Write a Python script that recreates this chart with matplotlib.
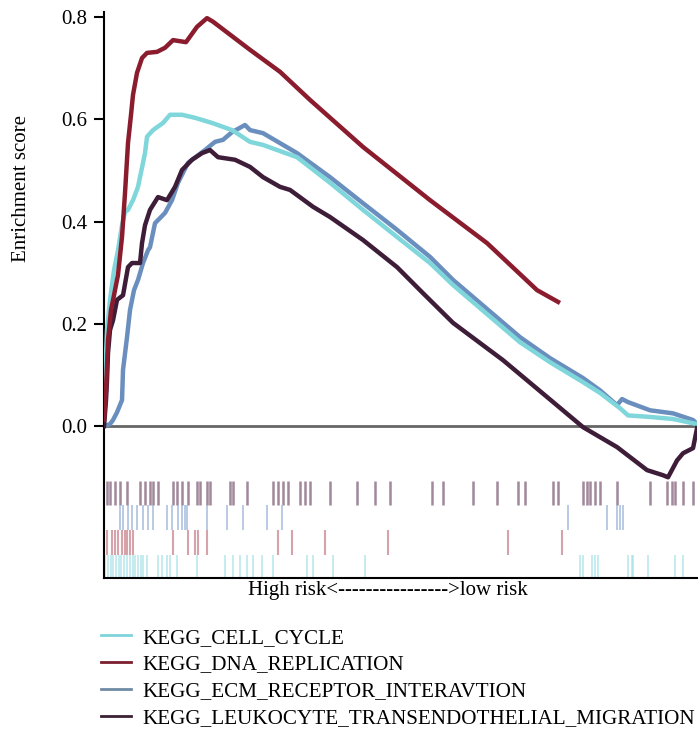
import matplotlib
matplotlib.use("Agg")
import matplotlib.pyplot as plt

plt.rcParams['font.family'] = ['Liberation Serif', 'DejaVu Serif']

# running enrichment score, x = gene rank (0..593)
n_genes = 593

cc_rank = [0, 1, 3, 6, 10, 14, 18, 21, 24, 29, 34, 41, 43, 49, 59, 66, 78, 91, 108, 128,
           146, 159, 193, 226, 259, 293, 326, 349, 416, 446, 479, 496, 516, 524, 546, 569, 593]
cc_es = [0.012, 0.090, 0.188, 0.247, 0.305, 0.344, 0.393, 0.419, 0.423, 0.442, 0.468, 0.534,
         0.566, 0.579, 0.593, 0.609, 0.609, 0.603, 0.593, 0.579, 0.556, 0.550, 0.526, 0.476,
         0.423, 0.370, 0.319, 0.276, 0.164, 0.125, 0.086, 0.065, 0.035, 0.021, 0.018, 0.014, 0.004]

dna_rank = [0, 2, 4, 7, 10, 14, 18, 21, 24, 27, 29, 33, 38, 43, 53, 61, 69, 82, 93, 103,
            109, 146, 176, 206, 259, 326, 383, 433, 454]
dna_es = [0.012, 0.070, 0.168, 0.227, 0.256, 0.296, 0.370, 0.456, 0.554, 0.609, 0.648, 0.691,
          0.720, 0.730, 0.732, 0.740, 0.755, 0.751, 0.781, 0.798, 0.791, 0.736, 0.693, 0.638,
          0.546, 0.442, 0.358, 0.266, 0.243]

ecm_rank = [0, 6, 9, 13, 18, 19, 23, 26, 30, 34, 39, 44, 46, 51, 61, 68, 74, 84, 101, 111,
            119, 128, 141, 146, 159, 193, 226, 259, 293, 326, 349, 416, 446, 479, 496, 513,
            518, 524, 546, 569, 589, 593]
ecm_es = [0.000, 0.004, 0.012, 0.027, 0.051, 0.110, 0.174, 0.227, 0.266, 0.286, 0.319, 0.344,
          0.350, 0.397, 0.417, 0.442, 0.476, 0.515, 0.540, 0.556, 0.560, 0.575, 0.589, 0.579,
          0.573, 0.534, 0.487, 0.436, 0.384, 0.331, 0.286, 0.174, 0.133, 0.094, 0.070, 0.041,
          0.053, 0.047, 0.031, 0.025, 0.012, 0.004]

leu_rank = [0, 2, 3, 4, 6, 9, 13, 19, 24, 28, 36, 38, 41, 46, 54, 63, 71, 78, 88, 98, 106,
            114, 131, 146, 159, 176, 186, 209, 226, 259, 293, 319, 349, 399, 443, 479, 513,
            543, 559, 564, 573, 579, 589, 593]
leu_es = [0.000, 0.051, 0.090, 0.143, 0.188, 0.207, 0.247, 0.256, 0.311, 0.319, 0.319, 0.358,
          0.393, 0.423, 0.448, 0.442, 0.468, 0.501, 0.521, 0.534, 0.540, 0.526, 0.521, 0.507,
          0.487, 0.468, 0.462, 0.429, 0.409, 0.364, 0.311, 0.260, 0.202, 0.129, 0.057, -0.002,
          -0.041, -0.086, -0.096, -0.100, -0.067, -0.053, -0.043, -0.004]

# hit positions (barcode rows)
leu_hits = [3, 6, 11, 16, 23, 36, 41, 46, 49, 54, 69, 73, 78, 84, 93, 96, 103, 106, 126, 129,
            143, 169, 174, 179, 184, 196, 201, 206, 226, 253, 271, 286, 328, 339, 369, 393, 414,
            421, 449, 454, 479, 483, 486, 491, 496, 513, 546, 563, 568, 571, 579, 589]
ecm_hits = [16, 19, 24, 28, 33, 39, 44, 49, 63, 68, 74, 78, 81, 83, 103, 123, 139, 163, 178,
            464, 503, 513, 516, 519]
dna_hits = [3, 8, 11, 14, 18, 21, 23, 26, 29, 69, 84, 91, 94, 103, 174, 188, 221, 284, 404, 458]
cc_hits = [1, 4, 7, 9, 12, 15, 17, 20, 23, 26, 29, 31, 34, 37, 39, 43, 54,
           58, 63, 66, 73, 93, 121, 129, 136, 143, 149, 158, 169, 203, 209, 229, 261, 476, 479,
           488, 491, 494, 524, 528, 529, 544, 571, 579]

labels = ['KEGG_CELL_CYCLE', 'KEGG_DNA_REPLICATION', 'KEGG_ECM_RECEPTOR_INTERAVTION',
          'KEGG_LEUKOCYTE_TRANSENDOTHELIAL_MIGRATION']

c_cc = '#7fd6db'
c_dna = '#8a1c2e'
c_ecm = '#6a8fbe'
c_leu = '#3e1d38'

fig = plt.figure(figsize=(6.99, 7.31), dpi=100)
ax = fig.add_axes([0.1488, 0.2093, 0.8484, 0.7743])

ax.axhline(0, color='#666666', lw=2, zorder=1)

ax.plot(ecm_rank, ecm_es, color=c_ecm, lw=3.2, zorder=2)
ax.plot(cc_rank, cc_es, color=c_cc, lw=3.2, zorder=3)
ax.plot(leu_rank, leu_es, color=c_leu, lw=3.2, zorder=4)
ax.plot(dna_rank, dna_es, color=c_dna, lw=3.2, zorder=5)

ax.vlines(leu_hits, -0.155, -0.108, color='#7a5670', lw=1.8, alpha=0.7)
ax.vlines(ecm_hits, -0.204, -0.155, color='#9db2da', lw=1.4, alpha=0.7)
ax.vlines(dna_hits, -0.252, -0.204, color='#c77c86', lw=1.5, alpha=0.7)
ax.vlines(cc_hits, -0.297, -0.252, color='#9fe0e4', lw=1.3, alpha=0.65)

ax.set_xlim(0, n_genes)
ax.set_ylim(-0.297, 0.810)
ax.set_yticks([0.0, 0.2, 0.4, 0.6, 0.8])
ax.set_yticklabels(['0.0', '0.2', '0.4', '0.6', '0.8'])
ax.set_xticks([])
ax.tick_params(axis='y', labelsize=15, length=7, width=1.5, pad=5)
for s in ['top', 'right']:
    ax.spines[s].set_visible(False)
ax.spines['left'].set_linewidth(1.5)
ax.spines['bottom'].set_linewidth(1.5)

fig.text(22 / 699, 1 - 188 / 731, 'Enrichment score', rotation=90,
         ha='center', va='center', fontsize=15)
fig.text(388 / 699, 1 - 591 / 731, 'High risk<---------------->low risk',
         ha='center', va='center', fontsize=15)

handles = [plt.Line2D([], [], color=c, lw=2) for c in ['#7fd4dc', '#7b1f2e', '#6f8aa5', '#3b1f33']]
fig.legend(handles, labels, loc='upper left', bbox_to_anchor=(101 / 699, 1 - 628 / 731),
           frameon=False, fontsize=15.2, handlelength=1.4, handletextpad=0.55,
           labelspacing=0.33, borderpad=0, borderaxespad=0)

fig.savefig('out.png', dpi=100)
